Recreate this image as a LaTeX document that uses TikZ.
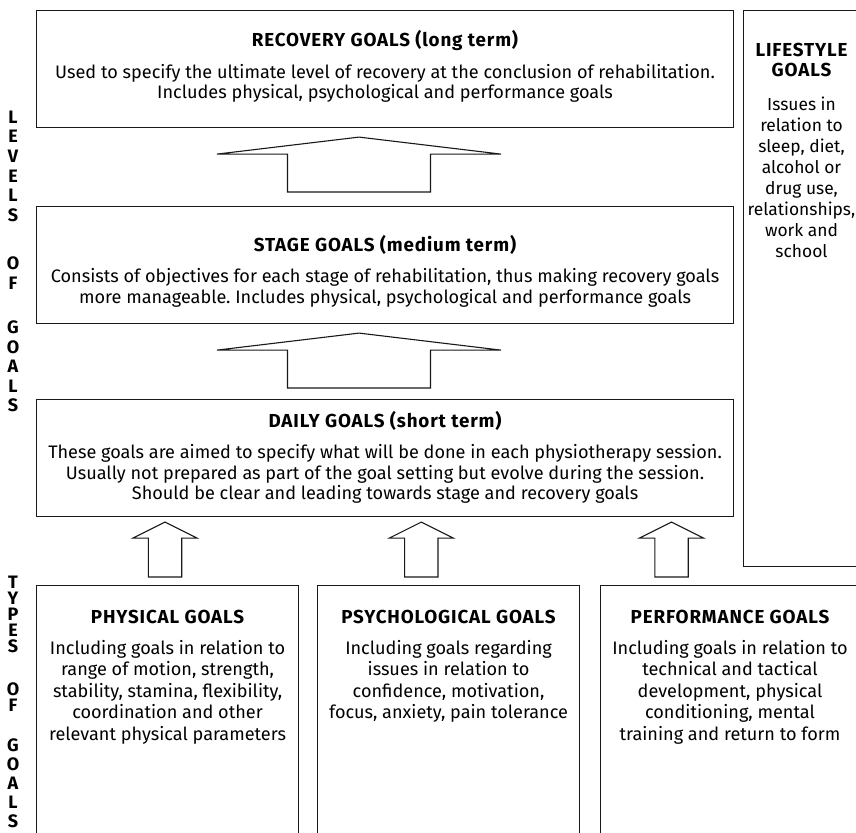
\documentclass[tikz,border=0pt]{standalone}
\usepackage{fontspec}
\setmainfont{Fira Sans}
\newfontfamily\headfamily{Fira Sans}[LetterSpace=4.5]
\usetikzlibrary{calc}
\newcommand{\tallstrut}{\rule{0pt}{16pt}}
\newcommand{\headfont}{\headfamily\bfseries\fontsize{18.8}{20.5}\selectfont}
\frenchspacing
\begin{document}
\begin{tikzpicture}[x=1pt,y=1pt,
  frame/.style={draw=black!90, line width=1.1pt, inner sep=0pt, anchor=north west},
  boxtext/.style={anchor=north, inner sep=0pt, align=center, font=\fontsize{18.1}{20.5}\selectfont},
  typetext/.style={anchor=north, inner sep=0pt, align=center, font=\fontsize{18.1}{21.5}\selectfont},
  sidetext/.style={anchor=north, inner sep=0pt, align=center, font=\fontsize{17.4}{21}\selectfont},
  sideletter/.style={anchor=base, inner sep=0pt, font=\bfseries\fontsize{18}{18}\selectfont},
  arrowline/.style={draw=black!90, line width=1.1pt, line join=miter, fill=white},
]
\useasboundingbox (0,0) rectangle (856,-832);
\clip (0,0) rectangle (856,-832);

% block arrow from a lower coordinate (#1) up to a tip coordinate (#2)
% #3 half shaft width, #4 half head width, #5 head length
\newcommand{\blockarrow}[5]{%
  \draw[arrowline] ($(#1)+(-#3,0)$) -- ($(#2)+(-#3,-#5)$) -- ($(#2)+(-#4,-#5)$)
    -- (#2) -- ($(#2)+(#4,-#5)$) -- ($(#2)+(#3,-#5)$) -- ($(#1)+(#3,0)$) -- cycle;}

% levels of goals
\node[frame, minimum width=697, minimum height=117] (recovery) at (36,-10) {};
\node[frame, minimum width=697, minimum height=117] (stage) at (36,-206) {};
\node[frame, minimum width=697, minimum height=117] (daily) at (36,-399) {};
\node[frame, minimum width=122, minimum height=556] (lifestyle) at (743,-10) {};

% types of goals
\node[frame, minimum width=262, minimum height=270] (physical) at (36,-585) {};
\node[frame, minimum width=262, minimum height=270] (psychological) at (317,-585) {};
\node[frame, minimum width=262, minimum height=270] (performance) at (600,-585) {};

\node[boxtext] (recoverytext) at ($(recovery.north)+(0,-20.6)$)
  {\tallstrut{\headfont RECOVERY GOALS (long term)}\\[11pt]
   Used to specify the ultimate level of recovery at the conclusion of rehabilitation.\\
   Includes physical, psychological and performance goals};
\node[boxtext] (stagetext) at ($(stage.north)+(0,-29.1)$)
  {\tallstrut{\headfont STAGE GOALS (medium term)}\\[11pt]
   Consists of objectives for each stage of rehabilitation, thus making recovery goals\\
   more manageable. Includes physical, psychological and performance goals};
\node[boxtext] (dailytext) at ($(daily.north)+(0,-12.1)$)
  {\tallstrut{\headfont DAILY GOALS (short term)}\\[11pt]
   These goals are aimed to specify what will be done in each physiotherapy session.\\
   Usually not prepared as part of the goal setting but evolve during the session.\\
   Should be clear and leading towards stage and recovery goals};
\node[sidetext] (lifestyletext) at ($(lifestyle.north west)+(58.5,-30.1)$)
  {\tallstrut{\headfont LIFESTYLE}\\[-1pt]{\headfont GOALS}\\[13pt]
   Issues in\\relation to\\sleep, diet,\\alcohol or\\drug use,\\relationships,\\work and\\school};

\node[typetext] (physicaltext) at ($(physical.north)+(0,-22.6)$)
  {\tallstrut{\headfont PHYSICAL GOALS}\\[9pt]
   Including goals in relation to\\range of motion, strength,\\stability, stamina, flexibility,\\
   coordination and other\\relevant physical parameters};
\node[typetext] (psychologicaltext) at ($(psychological.north)+(0,-22.6)$)
  {\tallstrut{\headfont PSYCHOLOGICAL GOALS}\\[9pt]
   Including goals regarding\\issues in relation to\\confidence, motivation,\\
   focus, anxiety, pain tolerance};
\node[typetext] (performancetext) at ($(performance.north west)+(130,-22.6)$)
  {\tallstrut{\headfont PERFORMANCE GOALS}\\[9pt]
   Including goals in relation to\\technical and tactical\\development, physical\\
   conditioning, mental\\training and return to form};

% vertical side labels, one letter per line
\foreach \ch/\yy [count=\i] in {L/117, E/136.6, V/156.2, E/175.8, L/195.4, S/215,
    O/263.5, F/283, G/327.5, O/347, A/366.5, L/386, S/405.5}
  \node[sideletter] (levels\i) at (13,{-\yy-6.2}) {\ch};
\foreach \ch/\yy [count=\i] in {T/582, Y/598, P/614, E/630, S/646,
    O/689, F/705.5, G/745, O/764, A/783, L/802, S/821}
  \node[sideletter] (types\i) at (13,{-\yy-6.2}) {\ch};

% arrows between the levels
\coordinate (upAfrom) at ($(stage.north west)+(323,14)$);
\coordinate (upAto) at ($(recovery.south west)+(323,-9)$);
\coordinate (upBfrom) at ($(daily.north west)+(323,11)$);
\coordinate (upBto) at ($(stage.south west)+(323,-9)$);
\blockarrow{upAfrom}{upAto}{71.5}{142}{17}
\blockarrow{upBfrom}{upBto}{71.5}{142}{17}

% arrows from the types up to the daily goals
\coordinate (physfrom) at ($(physical.north west)+(129,8)$);
\coordinate (physto) at ($(daily.south west)+(129,-5)$);
\coordinate (psyfrom) at ($(psychological.north west)+(104.3,8)$);
\coordinate (psyto) at ($(daily.south west)+(385.3,-5)$);
\coordinate (perffrom) at ($(performance.north west)+(71.5,8)$);
\coordinate (perfto) at ($(daily.south west)+(635.5,-5)$);
\blockarrow{physfrom}{physto}{16.7}{32}{16}
\blockarrow{psyfrom}{psyto}{16.7}{32}{16}
\blockarrow{perffrom}{perfto}{16.7}{32}{16}
\end{tikzpicture}
\end{document}
